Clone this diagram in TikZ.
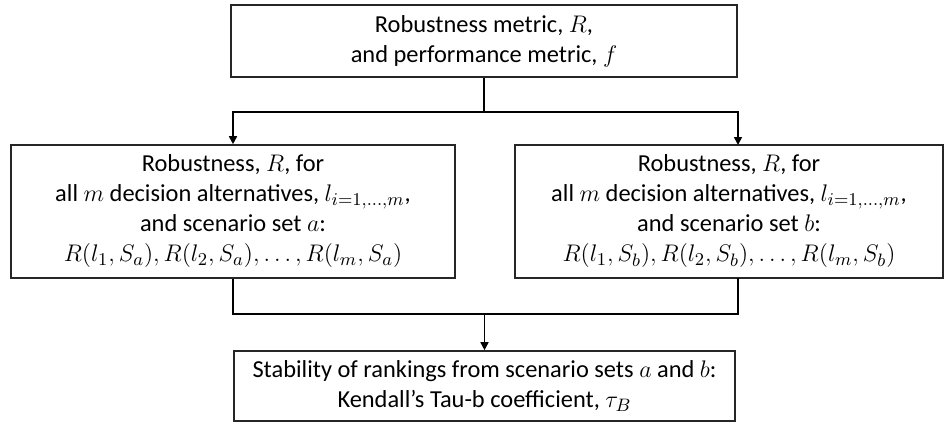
\documentclass[tikz,border=0pt]{standalone}
\usepackage{amsmath,amssymb}
\usepackage{fontspec}
\setmainfont{Carlito}
\usepackage{tikz}
\usetikzlibrary{positioning, arrows.meta}

\begin{document}
\begin{tikzpicture}[
    x=0.5pt, y=-0.5pt,
    stage box/.style={draw=black!85, line width=0.8pt, align=center, inner sep=0pt,
        font=\fontsize{12.2}{15}\selectfont},
    link/.style={line width=0.8pt, draw=black},
    arrow/.style={link, -{Triangle[length=4pt, width=4pt]}}
]
\useasboundingbox (0,0) rectangle (947,423);

% metric definition
\node[stage box, minimum width=253pt, minimum height=36pt] (metric) at (484,41)
    {Robustness metric, $R$,\\and performance metric, $f$};

% robustness for both scenario sets
\node[stage box, minimum width=222pt, minimum height=66.5pt] (seta) at (233,211.5)
    {Robustness, $R$, for\\all $m$ decision alternatives, $l_{i=1,\dots,m}$,\\and scenario set $a$:\\$R(l_1,S_a), R(l_2,S_a), \dots, R(l_m,S_a)$};
\node[stage box, minimum width=214pt, minimum height=66.5pt] (setb) at (729,211.5)
    {Robustness, $R$, for\\all $m$ decision alternatives, $l_{i=1,\dots,m}$,\\and scenario set $b$:\\$R(l_1,S_b), R(l_2,S_b), \dots, R(l_m,S_b)$};

% ranking stability
\node[stage box, minimum width=250.5pt, minimum height=35pt] (tau) at (484.5,386)
    {Stability of rankings from scenario sets $a$ and $b$:\\Kendall’s Tau-b coefficient, $\tau_B$};

\coordinate (split) at (484,112);
\coordinate (bin) at (738,145);
\coordinate (bout) at (738,278);
\coordinate (merge) at (484.5,314);

\draw[link] (metric.south) -- (split);
\draw[arrow] (split) -| (seta.north);
\draw[arrow] (split) -| (bin);
\draw[link] (seta.south) |- (merge);
\draw[link] (bout) |- (merge);
\draw[arrow] (merge) -- (tau.north);

\end{tikzpicture}
\end{document}
